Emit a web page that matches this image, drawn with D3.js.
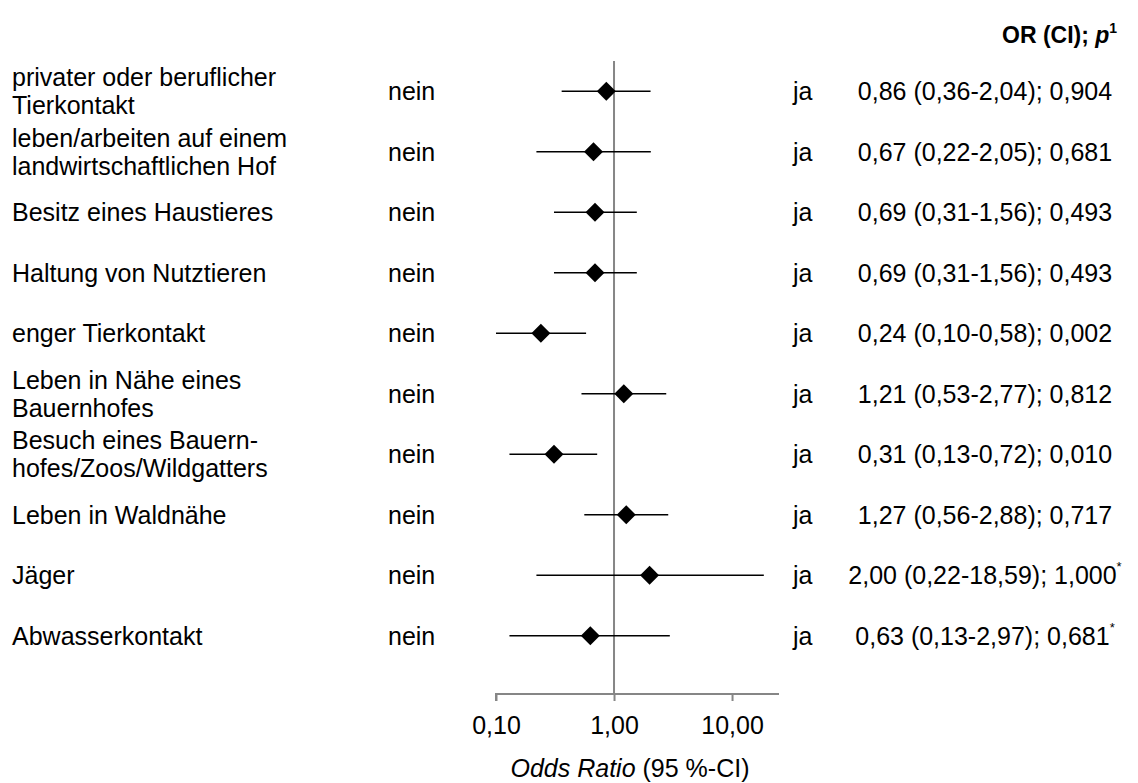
<!DOCTYPE html>
<html>
<head>
<meta charset="utf-8">
<script src="https://cdn.jsdelivr.net/npm/d3@7"></script>
<style>
  body { margin: 0; background: #fff; }
  svg text { font-family: "Liberation Sans", Arial, sans-serif; fill: #000; }
</style>
</head>
<body>
<div id="chart"></div>
<script>
"use strict";

// chart data
var labels = [
  ["privater oder beruflicher", "Tierkontakt"],
  ["leben/arbeiten auf einem", "landwirtschaftlichen Hof"],
  ["Besitz eines Haustieres"],
  ["Haltung von Nutztieren"],
  ["enger Tierkontakt"],
  ["Leben in Nähe eines", "Bauernhofes"],
  ["Besuch eines Bauern-", "hofes/Zoos/Wildgatters"],
  ["Leben in Waldnähe"],
  ["Jäger"],
  ["Abwasserkontakt"]
];
var oddsRatio = [0.86, 0.67, 0.69, 0.69, 0.24, 1.21, 0.31, 1.27, 2.00, 0.63];
var ciLow     = [0.36, 0.22, 0.31, 0.31, 0.10, 0.53, 0.13, 0.56, 0.22, 0.13];
var ciHigh    = [2.04, 2.05, 1.56, 1.56, 0.58, 2.77, 0.72, 2.88, 18.59, 2.97];
var pValue    = ["0,904", "0,681", "0,493", "0,493", "0,002", "0,812", "0,010", "0,717", "1,000", "0,681"];
var exactTest = [false, false, false, false, false, false, false, false, true, true];
var tickValues = [0.1, 1, 10];
var tickLabels = ["0,10", "1,00", "10,00"];

var width = 1138, height = 783;
var fontSize = 25;

var svg = d3.select("#chart").append("svg")
  .attr("width", width)
  .attr("height", height);

// log scale for odds ratios
var x = d3.scaleLog().domain([0.1, 25]).range([496, 779]);
var y = d3.scaleBand().domain(d3.range(labels.length)).range([61, 666]);
var axisY = 694;

function fmt(v) {
  return v.toFixed(2).replace(".", ",");
}

// reference line at OR = 1
svg.append("line")
  .attr("x1", x(1)).attr("x2", x(1))
  .attr("y1", 61).attr("y2", axisY)
  .attr("stroke", "#868686").attr("stroke-width", 2);

// x axis
var axis = d3.axisBottom(x)
  .tickValues(tickValues)
  .tickFormat(function (d, i) { return tickLabels[i]; })
  .tickSize(7)
  .tickPadding(15);

var gAxis = svg.append("g")
  .attr("transform", "translate(0," + axisY + ")")
  .call(axis);
gAxis.select(".domain").attr("stroke", "#868686").attr("stroke-width", 2)
  .attr("d", "M" + x.range()[0] + ",7V0H" + x.range()[1]);
gAxis.selectAll(".tick line").attr("stroke", "#868686").attr("stroke-width", 2);
gAxis.selectAll(".tick text")
  .style("font-family", "Liberation Sans, Arial, sans-serif")
  .style("font-size", fontSize + "px")
  .attr("fill", "#000");

// axis title
var title = svg.append("text")
  .attr("x", 630).attr("y", 777)
  .attr("text-anchor", "middle")
  .style("font-size", fontSize + "px");
title.append("tspan").style("font-style", "italic").text("Odds Ratio");
title.append("tspan").text(" (95 %-CI)");

// header
var header = svg.append("text")
  .attr("x", 1002).attr("y", 43)
  .style("font-size", "23px")
  .style("font-weight", "bold");
header.append("tspan").text("OR (CI); ");
header.append("tspan").style("font-style", "italic").text("p");
header.append("tspan").attr("dy", -10).style("font-size", "14px").text("1");

var rows = svg.selectAll(".row")
  .data(d3.range(labels.length))
  .enter().append("g")
  .attr("class", "row")
  .attr("transform", function (i) {
    return "translate(0," + (y(i) + y.bandwidth() / 2) + ")";
  });

// row labels (one or two lines)
rows.append("text")
  .attr("x", 12)
  .style("font-size", fontSize + "px")
  .each(function (i) {
    var lines = labels[i];
    var t = d3.select(this);
    var lh = 28;
    var start = 9 - (lines.length - 1) * lh / 2;
    lines.forEach(function (l, k) {
      t.append("tspan").attr("x", 12).attr("y", start + k * lh).text(l);
    });
  });

rows.append("text")
  .attr("x", 388).attr("y", 9)
  .style("font-size", fontSize + "px")
  .text("nein");

rows.append("text")
  .attr("x", 793).attr("y", 9)
  .style("font-size", fontSize + "px")
  .text("ja");

// OR (CI); p text
rows.append("text")
  .attr("x", 985).attr("y", 9)
  .attr("text-anchor", "middle")
  .style("font-size", fontSize + "px")
  .each(function (i) {
    var t = d3.select(this);
    t.append("tspan").text(fmt(oddsRatio[i]) + " (" + fmt(ciLow[i]) + "-" + fmt(ciHigh[i]) + "); " + pValue[i]);
    if (exactTest[i]) {
      t.append("tspan").attr("dy", -13).style("font-size", "13px").text("*");
    }
  });

// confidence intervals
rows.append("line")
  .attr("x1", function (i) { return x(ciLow[i]); })
  .attr("x2", function (i) { return x(ciHigh[i]); })
  .attr("stroke", "#000").attr("stroke-width", 1.5);

// diamonds for OR
rows.append("path")
  .attr("d", d3.symbol().type(d3.symbolDiamond2).size(230))
  .attr("transform", function (i) { return "translate(" + x(oddsRatio[i]) + ",0)"; })
  .attr("fill", "#000");
</script>
</body>
</html>
